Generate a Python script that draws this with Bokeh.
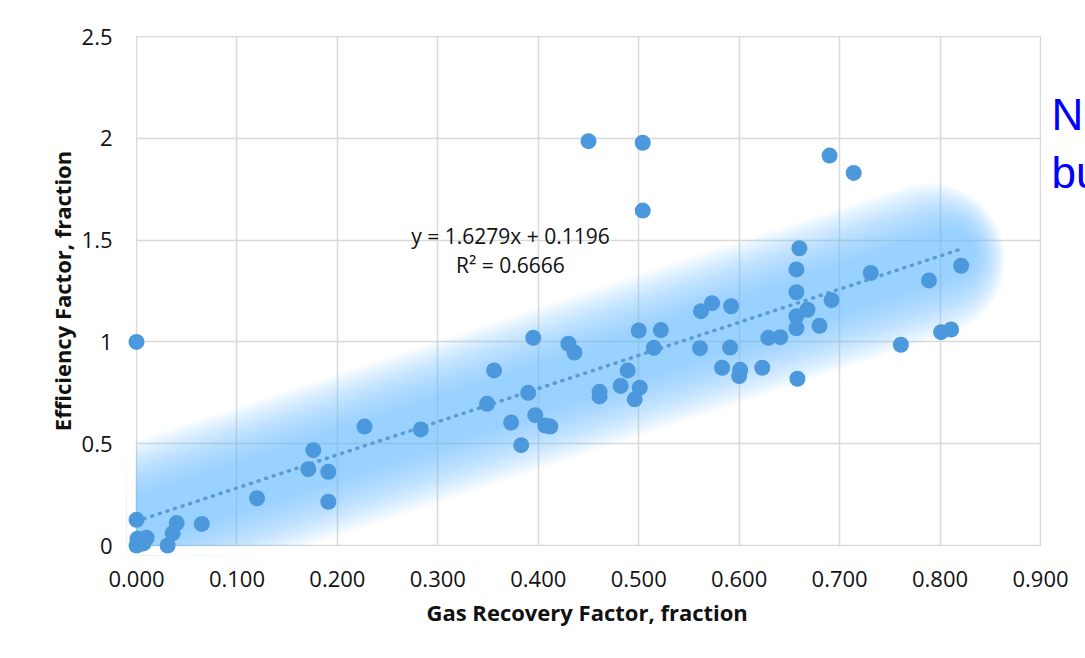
import numpy as np
from bokeh.plotting import figure
from bokeh.models import Range1d, NumeralTickFormatter, Label, Title
from bokeh.core.properties import value
from bokeh.embed import file_html
from bokeh.resources import INLINE

# ---- data ----
gas_recovery = [0.000, 0.000, 0.001, 0.010, 0.000, 0.002, 0.007, 0.031, 0.036, 0.040,
                0.065, 0.120, 0.171, 0.176, 0.191, 0.191, 0.227, 0.283, 0.349, 0.356,
                0.373, 0.383, 0.390, 0.395, 0.397, 0.407, 0.412, 0.430, 0.436, 0.450,
                0.461, 0.461, 0.482, 0.489, 0.496, 0.500, 0.501, 0.504, 0.504, 0.515,
                0.522, 0.561, 0.562, 0.573, 0.583, 0.591, 0.592, 0.600, 0.601, 0.623,
                0.629, 0.641, 0.657, 0.657, 0.657, 0.657, 0.658, 0.660, 0.668, 0.680,
                0.690, 0.692, 0.714, 0.731, 0.761, 0.789, 0.801, 0.811, 0.821]
efficiency = [1.000, 0.126, 0.033, 0.038, 0.000, 0.005, 0.010, 0.000, 0.060, 0.110,
              0.106, 0.232, 0.375, 0.468, 0.362, 0.215, 0.584, 0.570, 0.696, 0.860,
              0.604, 0.493, 0.750, 1.020, 0.640, 0.589, 0.584, 0.991, 0.948, 1.986,
              0.755, 0.732, 0.784, 0.860, 0.718, 1.056, 0.775, 1.978, 1.645, 0.971,
              1.058, 0.969, 1.151, 1.190, 0.873, 0.972, 1.175, 0.832, 0.863, 0.873,
              1.020, 1.023, 1.356, 1.244, 1.126, 1.067, 0.819, 1.460, 1.158, 1.079,
              1.915, 1.205, 1.830, 1.339, 0.986, 1.302, 1.048, 1.061, 1.374]

SLOPE = 1.6279
INTERCEPT = 0.1196
R2 = 0.6666

X_TICKS = [0.0, 0.1, 0.2, 0.3, 0.4, 0.5, 0.6, 0.7, 0.8, 0.9]
Y_TICKS = [0.0, 0.5, 1.0, 1.5, 2.0, 2.5]
X_TITLE = "Gas Recovery Factor, fraction"
Y_TITLE = "Efficiency Factor, fraction"
SIDE_NOTE = ["No", "bu"]

# ---- layout ----
PLOT_W, PLOT_H, PAD = 904, 509, 10
BORDER_L, BORDER_T, BORDER_B = 126, 26, 103
CANVAS_W = 1085
XMAX, YMAX = X_TICKS[-1], Y_TICKS[-1]
ux, uy = XMAX / PLOT_W, YMAX / PLOT_H
frame_w = CANVAS_W - BORDER_L               # frame reaches the right edge (for the side note)
right_px = frame_w - PAD - PLOT_W

p = figure(frame_width=frame_w, frame_height=PLOT_H + 2 * PAD,
           x_range=Range1d(-PAD * ux, XMAX + right_px * ux),
           y_range=Range1d(-PAD * uy, YMAX + PAD * uy),
           min_border_left=BORDER_L, min_border_right=0, min_border_top=BORDER_T,
           min_border_bottom=BORDER_B,
           output_backend="svg", toolbar_location=None)
p.outline_line_color = None
p.background_fill_color = "white"
p.border_fill_color = "white"

FONT = "Open Sans"
for ax in (p.xaxis, p.yaxis):
    ax.axis_line_color = None
    ax.major_tick_line_color = None
    ax.minor_tick_line_color = None
    ax.major_label_text_font = FONT
    ax.major_label_text_font_size = "22px"
    ax.major_label_text_color = "#111111"
    ax.axis_label_text_font = FONT
    ax.axis_label_text_font_size = "22px"
    ax.axis_label_text_font_style = "bold"
    ax.axis_label_text_color = "#111111"

p.xaxis.ticker = X_TICKS
p.yaxis.ticker = Y_TICKS
p.xaxis.formatter = NumeralTickFormatter(format="0.000")
p.yaxis.formatter = NumeralTickFormatter(format="0.[0]")
p.yaxis.axis_label = Y_TITLE
p.xaxis.major_label_standoff = 9
p.yaxis.major_label_standoff = 8
p.yaxis.axis_label_standoff = 2

# x title as a "below" title, so it can be centred under the plot area
# (the frame is widened to the right edge for the side note)
x_title = Title(text=X_TITLE, align="left", offset=300, standoff=10,
                text_font=FONT, text_font_size="22px", text_font_style="bold",
                text_color="#111111")
p.add_layout(x_title, "below")

for g in (p.xgrid, p.ygrid):
    g.grid_line_color = "#D9D9D9"
    g.grid_line_width = 1.5

# ---- trendline glow ----
x_end = max(gas_recovery)
tx = np.array([0.0, x_end])
ty = SLOPE * tx + INTERCEPT
theta = np.arctan(SLOPE * ux / uy)          # angle of the line on screen
for w in range(44, 158, 5):
    # pull each wide stroke back so the round caps nest and the end fades softly
    back_px = 0.5 * w * 0.45
    xe = x_end - back_px * np.cos(theta) * ux
    gx = np.array([0.0, xe])
    p.line(gx, SLOPE * gx + INTERCEPT, line_width=w, line_color="#7CBEF8",
           line_alpha=0.05, line_cap="round")

# white masks: keep the glow and the grid inside the plot area
hx, hy = 0.75 * ux, 0.75 * uy
p.quad(left=[-1, -1, XMAX + hx, -1], right=[-hx, 2, 2, 2],
       bottom=[-1, -1, -1, YMAX + hy], top=[4, -hy, 4, 4],
       fill_color="white", line_color=None)

# dotted trendline
p.line(tx, ty, line_width=3.5, line_color="#5B9BD5", line_dash="1 7", line_cap="round")

# points
p.scatter(gas_recovery, efficiency, size=16, fill_color="#4C98DD", line_color=None)

# equation
p.add_layout(Label(x=0.3723, y=1.5177, text=f"y = {SLOPE:.4f}x + {INTERCEPT:.4f}",
                   text_align="center", text_baseline="middle",
                   text_font=FONT, text_font_size="21px", text_color="#111111"))
p.add_layout(Label(x=0.3723, y=1.3767, text=f"R² = {R2:.4f}",
                   text_align="center", text_baseline="middle",
                   text_font=FONT, text_font_size="21px", text_color="#111111"))

# side note (cut off at the right edge, as in the reference)
note_y = [2.038 + 16 * uy, 1.753 + 16 * uy]
p.text(x=[0.911, 0.911], y=note_y, text=SIDE_NOTE,
       text_align="left", text_baseline="alphabetic",
       text_font=value("Liberation Sans"), text_font_size="44px", text_color="#0000FF")

open("out.html", "w").write(file_html(p, INLINE))
